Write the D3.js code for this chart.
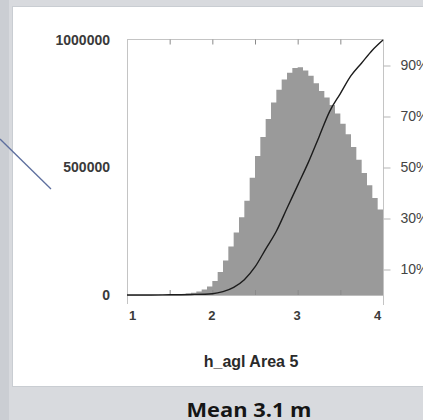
<!DOCTYPE html>
<html><head><meta charset="utf-8">
<script src="https://cdn.jsdelivr.net/npm/d3@7"></script>
<style>html,body{margin:0;padding:0;background:#d7d9dd;}svg{display:block;}</style>
</head><body>
<script>
// ---- data ----
const binStart = 1, binWidth = 0.0625;
const binCounts = [0,0,0,0,0,0,1000,1000,2000,3000,4000,6000,9000,14000,22000,33000,
  55000,90000,135000,190000,245000,305000,370000,460000,545000,620000,690000,755000,805000,845000,872000,890000,
  893000,880000,860000,830000,800000,775000,745000,712000,672000,630000,580000,530000,478000,430000,380000,335000];
const cdfX = [1,1.25,1.5,1.75,2,2.125,2.25,2.375,2.5,2.625,2.75,2.875,3,3.125,3.25,3.375,3.5,3.625,3.75,3.875,4];
const cdfPct = [0,0,0.1,0.2,0.5,1.3,3,6,11,18,25,34,43,52,62,72,79,86,91,96,100];
const xTickLabels = [1,2,3,4];
const xMinorTicks = [1.5,2,2.5,3,3.5];
const yTickValues = [0,500000,1000000];
const pctTicks = [10,30,50,70,90];
const xTitle = "h_agl Area 5";
const caption = "Mean 3.1 m";

// ---- drawing ----
const W = 423, H = 420;
const svg = d3.select("body").append("svg").attr("width", W).attr("height", H);

// slide background
svg.append("rect").attr("x",0).attr("y",0).attr("width",W).attr("height",H).attr("fill","#d8dade");
svg.append("rect").attr("x",0).attr("y",0).attr("width",9).attr("height",H).attr("fill","#cbced3");
// white panel
svg.append("rect").attr("x",12.5).attr("y",6.5).attr("width",430).attr("height",380)
  .attr("fill","#ffffff").attr("stroke","#c9cdd2").attr("stroke-width",1);

// pointer line
svg.append("line").attr("x1",0).attr("y1",139).attr("x2",51).attr("y2",189)
  .attr("stroke","#5e6f9e").attr("stroke-width",1.3);

const x = d3.scaleLinear().domain([1,4]).range([127,383]);
const y = d3.scaleLinear().domain([0,1000000]).range([295,40]);
const yR = d3.scaleLinear().domain([0,100]).range([295,40]);

// histogram as one stepped area (no seams between bins)
const stepPts = binCounts.map((d,i)=>[binStart+i*binWidth, d]);
stepPts.push([binStart+binCounts.length*binWidth, binCounts[binCounts.length-1]]);
const histArea = d3.area().x(d=>x(d[0])).y0(y(0)).y1(d=>y(d[1])).curve(d3.curveStepAfter);
svg.append("path").datum(stepPts).attr("d",histArea).attr("fill","#9a9a9a");

// frame lines
const frame = svg.append("g").attr("stroke","#c4c4c4").attr("stroke-width",1);
frame.append("line").attr("x1",x(1)).attr("x2",x(4)).attr("y1",39.5).attr("y2",39.5);
frame.append("line").attr("x1",x(1)).attr("x2",x(4)).attr("y1",y(0)+0.5).attr("y2",y(0)+0.5).attr("stroke","#bdbdbd");
frame.append("line").attr("x1",x(1)+0.5).attr("x2",x(1)+0.5).attr("y1",39).attr("y2",304);
frame.append("line").attr("x1",x(4)+0.5).attr("x2",x(4)+0.5).attr("y1",39).attr("y2",305);

// inner minor ticks
const topAx = svg.append("g").attr("transform","translate(0,39.5)")
  .call(d3.axisTop(x).tickValues(xMinorTicks).tickSize(-5).tickFormat(""));
const botAx = svg.append("g").attr("transform",`translate(0,${y(0)})`)
  .call(d3.axisBottom(x).tickValues(xMinorTicks).tickSize(-5).tickFormat(""));
[topAx, botAx].forEach(g=>{ g.select(".domain").remove(); g.selectAll(".tick line").attr("stroke","#8a8a8a"); });

// x tick labels
const xLab = svg.append("g").attr("transform",`translate(0,${y(0)})`)
  .call(d3.axisBottom(x).tickValues(xTickLabels).tickSize(0).tickPadding(16).tickFormat(d3.format("d")));
xLab.select(".domain").remove();
xLab.selectAll("text").attr("font-family","Liberation Sans, Arial, sans-serif")
  .attr("font-size",13).attr("font-weight","bold").attr("fill","#3a3a3a")
  .attr("dx",(d,i,n)=> i===0 ? 5 : (i===n.length-1 ? -6 : -1));

// left y labels
const yLab = svg.append("g").attr("transform",`translate(${x(1)},0)`)
  .call(d3.axisLeft(y).tickValues(yTickValues).tickSize(0).tickPadding(17).tickFormat(d3.format("d")));
yLab.select(".domain").remove();
yLab.selectAll("text").attr("font-family","Liberation Sans, Arial, sans-serif")
  .attr("font-size",14).attr("font-weight","bold").attr("fill","#3a3a3a");

// right percent axis (labels run off the right edge as in the reference)
const rAx = svg.append("g").attr("transform",`translate(${x(4)+0.5},0)`)
  .call(d3.axisRight(yR).tickValues(pctTicks).tickSize(7).tickPadding(10).tickFormat(d=>d+"%"));
rAx.select(".domain").remove();
rAx.selectAll(".tick line").attr("stroke","#b5b5b5");
rAx.selectAll("text").attr("font-family","Liberation Sans, Arial, sans-serif")
  .attr("font-size",14).attr("fill","#444");

// cumulative curve
const line = d3.line().x((d,i)=>x(cdfX[i])).y(d=>yR(d)).curve(d3.curveMonotoneX);
svg.append("path").datum(cdfPct).attr("d",line).attr("fill","none")
  .attr("stroke","#1c1c1c").attr("stroke-width",1.4);

// titles
svg.append("text").attr("x",251).attr("y",367).attr("text-anchor","middle")
  .attr("font-family","Liberation Sans, Arial, sans-serif").attr("font-size",16).attr("font-weight","bold")
  .attr("fill","#2a2a2a").text(xTitle);
svg.append("text").attr("x",249).attr("y",417).attr("text-anchor","middle")
  .attr("font-family","Open Sans, Liberation Sans, sans-serif").attr("font-size",20).attr("font-weight","700")
  .attr("textLength",125).attr("lengthAdjust","spacingAndGlyphs")
  .attr("fill","#151515").text(caption);
</script>
</body></html>
